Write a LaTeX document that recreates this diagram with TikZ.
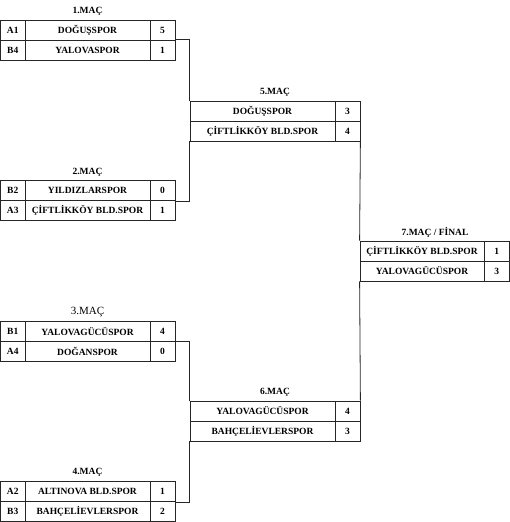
\documentclass[tikz,border=0pt]{standalone}
\usepackage{fontspec}
\setmainfont{Liberation Serif}
\begin{document}
\begin{tikzpicture}[x=1pt,y=-1pt,
  every node/.style={font=\fontsize{9.5}{11}\selectfont\bfseries, inner sep=0pt},
  cell/.style={draw=black!85, line width=0.8pt, minimum height=20pt, anchor=center},
  lab/.style={cell, minimum width=24.5pt},
  team/.style={cell, minimum width=125pt},
  sc/.style={cell, minimum width=25pt},
  teamw/.style={cell, minimum width=145pt},
  teamf/.style={cell, minimum width=124pt},
  scf/.style={cell, minimum width=25.5pt},
  title/.style={},
  conn/.style={draw=black!85, line width=0.8pt}]
\useasboundingbox (0,0) rectangle (510,522);

% Match 1
\node[title] (t1) at (87.5,11.7) {1.MAÇ};
\node[lab]  (m1al) at (12.75,30) {A1};
\node[team] (m1at) at (87.5,30) {DOĞUŞSPOR};
\node[sc]   (m1as) at (162.5,30) {5};
\node[lab]  (m1bl) at (12.75,50) {B4};
\node[team] (m1bt) at (87.5,50) {YALOVASPOR};
\node[sc]   (m1bs) at (162.5,50) {1};

% Match 2
\node[title] (t2) at (87.5,172) {2.MAÇ};
\node[lab]  (m2al) at (12.75,190.5) {B2};
\node[team] (m2at) at (87.5,190.5) {YILDIZLARSPOR};
\node[sc]   (m2as) at (162.5,190.5) {0};
\node[lab]  (m2bl) at (12.75,210.5) {A3};
\node[team] (m2bt) at (87.5,210.5) {ÇİFTLİKKÖY BLD.SPOR};
\node[sc]   (m2bs) at (162.5,210.5) {1};

% Match 3
\node[title, font=\fontsize{11}{12}\selectfont] (t3) at (87.5,312) {3.MAÇ};
\node[lab]  (m3al) at (12.75,331.5) {B1};
\node[team] (m3at) at (87.5,331.5) {YALOVAGÜCÜSPOR};
\node[sc]   (m3as) at (162.5,331.5) {4};
\node[lab]  (m3bl) at (12.75,351.5) {A4};
\node[team] (m3bt) at (87.5,351.5) {DOĞANSPOR};
\node[sc]   (m3bs) at (162.5,351.5) {0};

% Match 4
\node[title] (t4) at (87.5,472) {4.MAÇ};
\node[lab]  (m4al) at (12.75,491.5) {A2};
\node[team] (m4at) at (87.5,491.5) {ALTINOVA BLD.SPOR};
\node[sc]   (m4as) at (162.5,491.5) {1};
\node[lab]  (m4bl) at (12.75,511.5) {B3};
\node[team] (m4bt) at (87.5,511.5) {BAHÇELİEVLERSPOR};
\node[sc]   (m4bs) at (162.5,511.5) {2};

% Match 5
\node[title] (t5) at (275,92) {5.MAÇ};
\node[teamw] (m5at) at (262.5,111) {DOĞUŞSPOR};
\node[sc]    (m5as) at (347.5,111) {3};
\node[teamw] (m5bt) at (262.5,131) {ÇİFTLİKKÖY BLD.SPOR};
\node[sc]    (m5bs) at (347.5,131) {4};

% Match 6
\node[title] (t6) at (275,392) {6.MAÇ};
\node[teamw] (m6at) at (262.5,411) {YALOVAGÜCÜSPOR};
\node[sc]    (m6as) at (347.5,411) {4};
\node[teamw] (m6bt) at (262.5,431) {BAHÇELİEVLERSPOR};
\node[sc]    (m6bs) at (347.5,431) {3};

% Match 7
\node[title] (t7) at (435,232) {7.MAÇ / FİNAL};
\node[teamf] (m7at) at (422,251) {ÇİFTLİKKÖY BLD.SPOR};
\node[scf]   (m7as) at (496.75,251) {1};
\node[teamf] (m7bt) at (422,271) {YALOVAGÜCÜSPOR};
\node[scf]   (m7bs) at (496.75,271) {3};

% Connectors
\draw[conn] (m1bs.north east) -| (m5at.north west);
\draw[conn] (m2as.south east) -| (m5bt.south west);
\draw[conn] (m3bs.north east) -| (m6at.north west);
\draw[conn] (m4as.south east) -| (m6bt.south west);
\draw[conn] (m5bs.south east) -- (m7at.north west);
\draw[conn] (m7bt.south west) -- (m6as.north east);
\end{tikzpicture}
\end{document}
